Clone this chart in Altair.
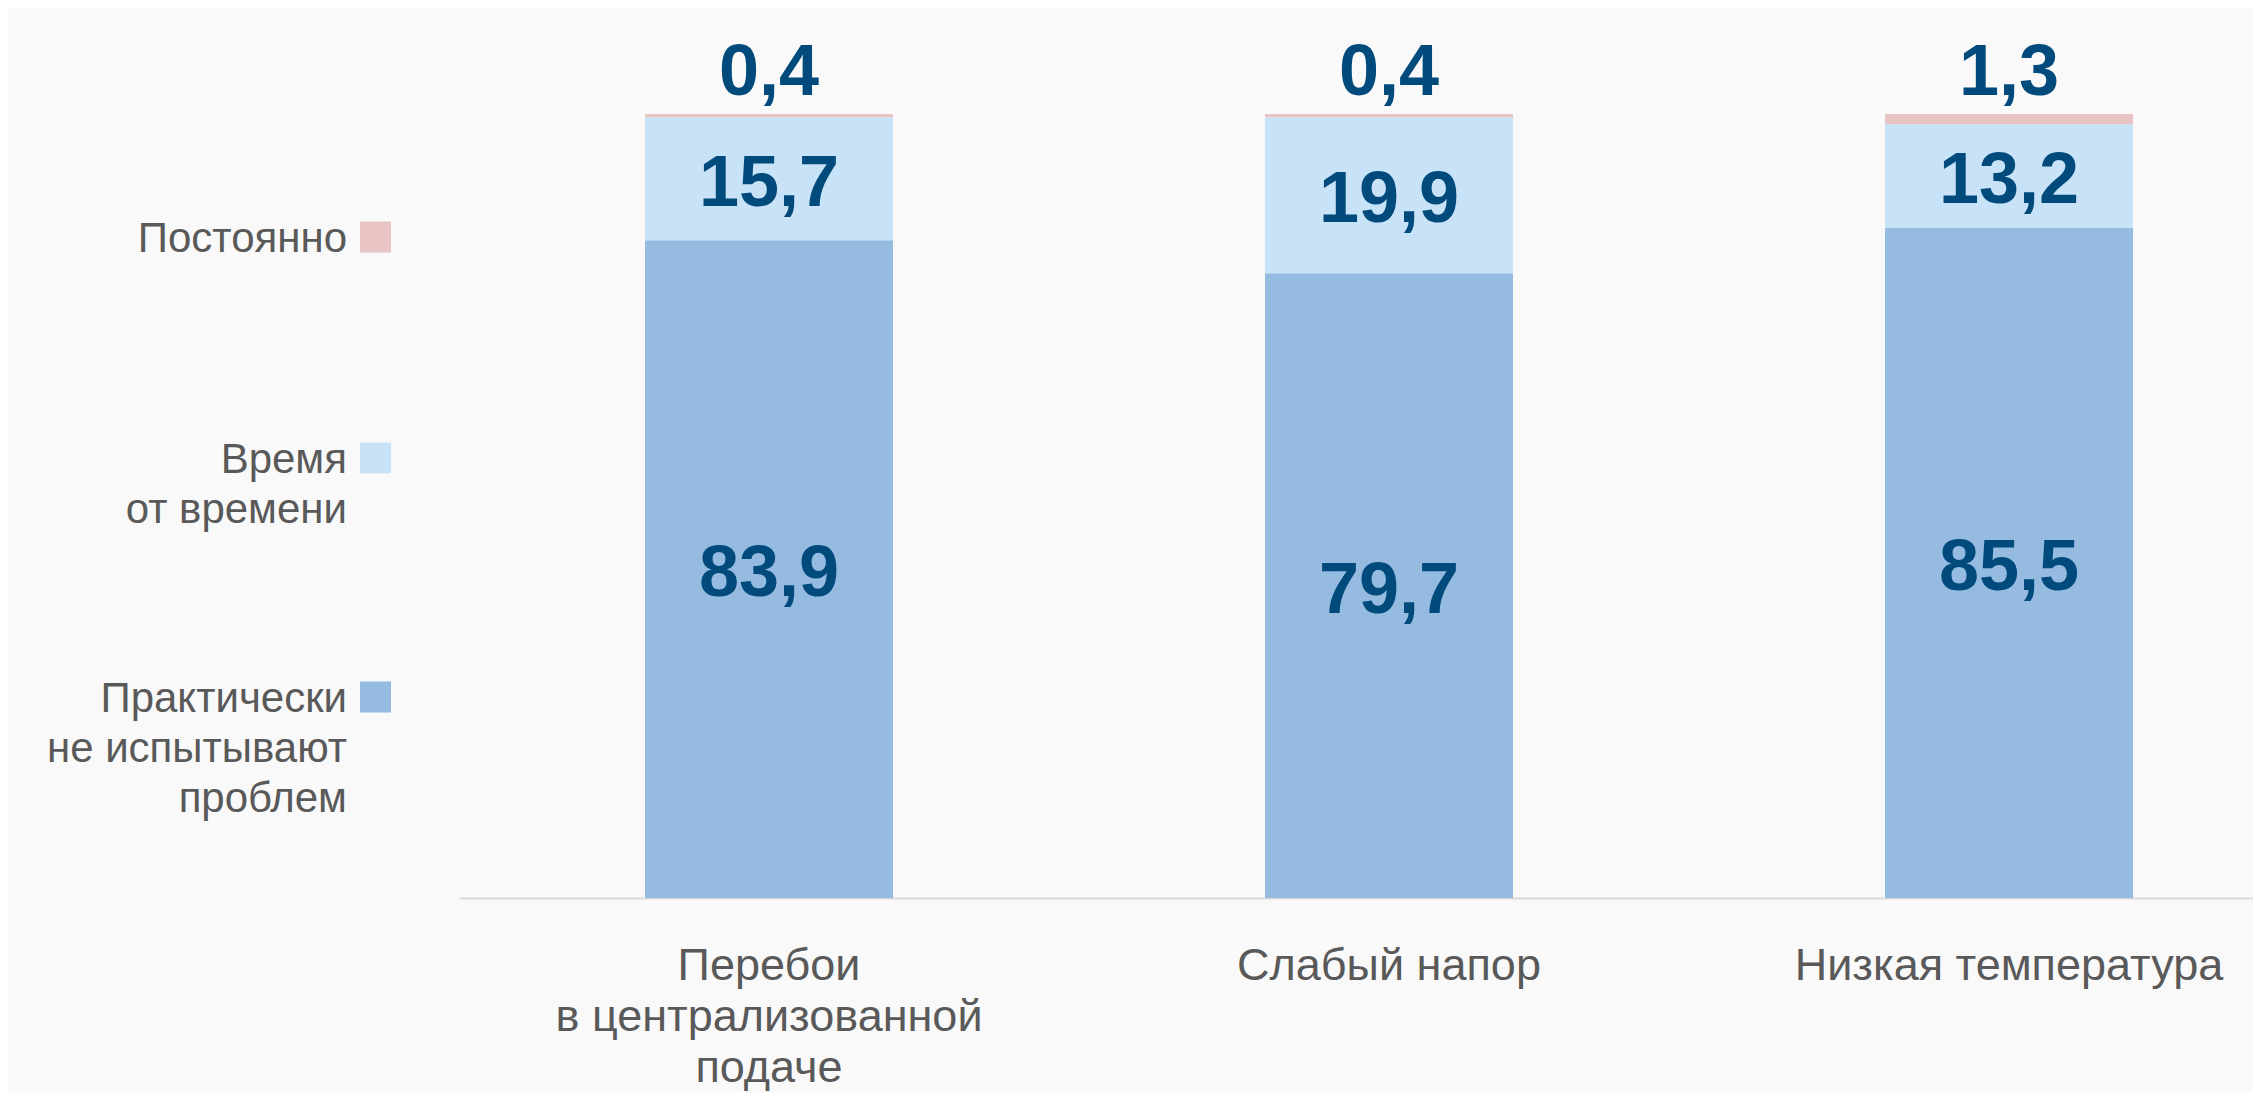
import altair as alt
import pandas as pd

# ---- data -------------------------------------------------------------
categories = ["Перебои", "Слабый напор", "Низкая температура"]
category_labels = ["Перебои\nв централизованной\nподаче", "Слабый напор", "Низкая температура"]
series = ["Практически не испытывают проблем", "Время от времени", "Постоянно"]
series_labels = ["Практически\nне испытывают\nпроблем", "Время\nот времени", "Постоянно"]
practically = [83.9, 79.7, 85.5]
sometimes = [15.7, 19.9, 13.2]
constantly = [0.4, 0.4, 1.3]
colors = ["#95BBE0", "#C8E3F7", "#E8C4C4"]

# ---- style / layout constants -----------------------------------------
W, H = 1794, 784
BG = "#f9f9f9"
VAL_COLOR = "#014a7c"
GRAY = "#595959"
FONT = "Liberation Sans"
legend_swatch_center_px = [583, 344, 123]   # legend layout (pixels from plot top)

rows = []
values_by_series = [practically, sometimes, constantly]
for ci, cat in enumerate(categories):
    start = 0.0
    for si, s in enumerate(series):
        v = values_by_series[si][ci]
        rows.append({
            "cat": cat,
            "series": s,
            "order": si,
            "value": v,
            "start": start,
            "end": start + v,
            "mid": start + v / 2,
            "label": f"{v:.1f}".replace(".", ","),
        })
        start += v
df = pd.DataFrame(rows)

cat_df = pd.DataFrame({"cat": categories, "text": category_labels})
leg_df = pd.DataFrame({
    "series": series,
    "text": series_labels,
    "sy": [c - 15.5 for c in legend_swatch_center_px],
    "sy2": [c + 15.5 for c in legend_swatch_center_px],
    "ty": [c + 15 for c in legend_swatch_center_px],
})

x_scale = alt.Scale(domain=categories, paddingInner=0.6, paddingOuter=0.2468, align=0.6078)
y_scale = alt.Scale(domain=[0, 100], nice=False, zero=True)
x_axis = alt.Axis(labels=False, ticks=False, title=None, grid=False,
                  domainColor="#d9d9d9", domainWidth=2)
x_enc = alt.X("cat:N", sort=categories, scale=x_scale, axis=x_axis)

bars = alt.Chart(df).mark_bar().encode(
    x=x_enc,
    y=alt.Y("start:Q", scale=y_scale, axis=None),
    y2="end:Q",
    color=alt.Color("series:N", scale=alt.Scale(domain=series, range=colors), legend=None),
)

inner_labels = alt.Chart(df).transform_filter(
    alt.datum.series != series[2]
).mark_text(font=FONT, fontSize=72, fontWeight="bold", color=VAL_COLOR,
            baseline="middle", dy=5).encode(
    x=x_enc,
    y=alt.Y("mid:Q", scale=y_scale, axis=None),
    text="label:N",
)

top_labels = alt.Chart(df).transform_filter(
    alt.datum.series == series[2]
).mark_text(font=FONT, fontSize=72, fontWeight="bold", color=VAL_COLOR,
            baseline="alphabetic", dy=-19).encode(
    x=x_enc,
    y=alt.Y("end:Q", scale=y_scale, axis=None),
    text="label:N",
)

cat_text = alt.Chart(cat_df).mark_text(
    font=FONT, fontSize=45, color=GRAY, baseline="alphabetic", align="center",
    lineBreak="\n", lineHeight=51,
).encode(
    x=x_enc,
    y=alt.value(H + 82),
    text="text:N",
)

leg_swatch = alt.Chart(leg_df).mark_rect().encode(
    x=alt.value(-99), x2=alt.value(-68),
    y=alt.Y("sy:Q", scale=None, axis=None), y2="sy2:Q",
    color=alt.Color("series:N", scale=alt.Scale(domain=series, range=colors), legend=None),
)

leg_text = alt.Chart(leg_df).mark_text(
    font=FONT, fontSize=42, color=GRAY, baseline="alphabetic", align="right",
    lineBreak="\n", lineHeight=50,
).encode(
    x=alt.value(-112),
    y=alt.Y("ty:Q", scale=None, axis=None),
    text="text:N",
)

chart = alt.layer(
    bars, inner_labels, top_labels, cat_text, leg_swatch, leg_text
).resolve_scale(y="independent").properties(
    width=W, height=H,
    background=BG,
    padding={"left": 451, "top": 106, "right": 0, "bottom": 200},
    autosize=alt.AutoSizeParams(type="none"),
).configure_view(stroke=None)

chart.save("out.html", embed_options={"renderer": "svg", "actions": False})
